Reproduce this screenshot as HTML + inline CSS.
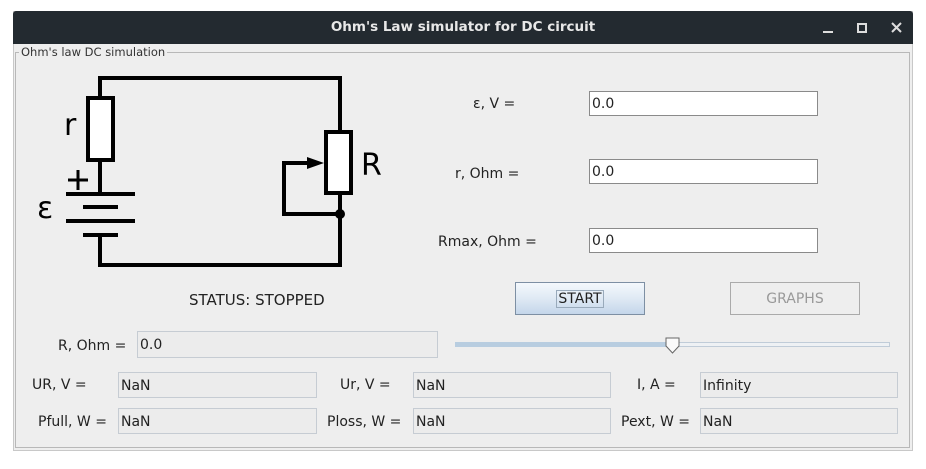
<!DOCTYPE html>
<html><head><style>
body{margin:0;width:926px;height:469px;background:#fff;position:relative;overflow:hidden;font-family:"DejaVu Sans","Liberation Sans",sans-serif;}
.win{position:absolute;left:13px;top:11px;width:900px;height:440px;background:#eeeeee;border:1px solid #c8c8c8;box-sizing:border-box;}
.title{position:absolute;left:13px;top:11px;width:900px;height:33px;background:#232a30;color:#e8e8e8;font-weight:bold;font-size:13.5px;text-align:center;line-height:33px;border-radius:3px 3px 0 0;}
.panel{position:absolute;left:15px;top:52px;width:895px;height:396px;border:1px solid #b8b8b8;box-sizing:border-box;}
.legend{position:absolute;left:19px;top:45px;background:#eeeeee;font-size:11.5px;color:#333;padding:0 2px;}
.lbl{position:absolute;font-size:14px;color:#222;white-space:nowrap;}
.tf{position:absolute;background:#fff;border:1px solid #8a8a8a;box-sizing:border-box;font-size:14px;color:#222;padding-left:2px;line-height:25px;}
.df{position:absolute;background:#ececec;border:1px solid #c6ccd3;box-sizing:border-box;font-size:14px;color:#222;padding-left:2px;line-height:27px;}
.btn{position:absolute;box-sizing:border-box;font-size:14px;text-align:center;}
</style></head><body>
<div class="win"></div>
<div class="title">Ohm's Law simulator for DC circuit</div>
<svg style="position:absolute;left:815px;top:18px" width="90" height="20">
<line x1="8" y1="14" x2="18" y2="14" stroke="#ddd" stroke-width="2"/>
<rect x="43" y="6" width="8" height="8" fill="none" stroke="#ddd" stroke-width="2"/>
<path d="M77 5L86 14M86 5L77 14" stroke="#ddd" stroke-width="2"/>
</svg>
<div class="panel"></div>
<div class="legend">Ohm's law DC simulation</div>
<svg style="position:absolute;left:0;top:0" width="460" height="290">
<g stroke="#000" stroke-width="4" fill="none">
<path d="M100 97V78H340V132M340 193V265H100V235"/>
<rect x="88" y="98" width="25" height="62" fill="#fff"/>
<line x1="100" y1="160" x2="100" y2="193"/>
<line x1="66" y1="194" x2="135" y2="194"/>
<line x1="83" y1="207" x2="118" y2="207"/>
<line x1="66" y1="221" x2="135" y2="221"/>
<line x1="83" y1="235" x2="118" y2="235"/>
<rect x="326" y="132" width="25" height="61" fill="#fff"/>
<path d="M310 163H284V214H340"/>
<line x1="68" y1="180" x2="88" y2="180" stroke-width="3"/>
<line x1="78" y1="170" x2="78" y2="190" stroke-width="3"/>
</g>
<polygon points="307,157 324,163 307,169" fill="#000"/>
<circle cx="340" cy="214" r="5" fill="#000"/>
<text x="64" y="135" font-family="DejaVu Sans" font-size="30">r</text>
<text x="361" y="175" font-family="DejaVu Sans" font-size="30">R</text>
<text x="37" y="218" font-family="DejaVu Sans" font-size="30">ε</text>
</svg>
<div class="lbl" style="left:189px;top:291px;font-size:15px">STATUS: STOPPED</div>
<div class="lbl" style="left:473px;top:96px">ε, V =</div>
<div class="tf" style="left:589px;top:91px;width:229px;height:25px">0.0</div>
<div class="lbl" style="left:455px;top:166px">r, Ohm =</div>
<div class="tf" style="left:589px;top:159px;width:229px;height:25px">0.0</div>
<div class="lbl" style="left:438px;top:234px">Rmax, Ohm =</div>
<div class="tf" style="left:589px;top:228px;width:229px;height:25px">0.0</div>
<div class="btn" style="left:515px;top:282px;width:130px;height:33px;border:1px solid #7d8fa3;background:linear-gradient(#f4f8fc,#dfe9f4 50%,#c4d6ea);color:#222;line-height:33px"><span style="border:1px solid #9ab;padding:0 1px">START</span></div>
<div class="btn" style="left:730px;top:282px;width:130px;height:33px;border:1px solid #aaa;color:#999;line-height:33px">GRAPHS</div>
<div class="lbl" style="left:58px;top:338px">R, Ohm =</div>
<div class="df" style="left:137px;top:331px;width:301px;height:27px">0.0</div>
<div style="position:absolute;left:455px;top:342px;width:435px;height:5px;border:1px solid #c0ccd8;box-sizing:border-box;background:#eef1f4"></div>
<div style="position:absolute;left:455px;top:342px;width:218px;height:5px;background:#b8cde0"></div>
<svg style="position:absolute;left:664px;top:337px" width="18" height="18"><path d="M2 1H15V9L8.5 16L2 9Z" fill="#fafafa" stroke="#666"/></svg>
<div class="lbl" style="left:32px;top:377px">UR, V =</div>
<div class="df" style="left:118px;top:372px;width:199px;height:26px">NaN</div>
<div class="lbl" style="left:340px;top:377px">Ur, V =</div>
<div class="df" style="left:413px;top:372px;width:198px;height:26px">NaN</div>
<div class="lbl" style="left:637px;top:377px">I, A =</div>
<div class="df" style="left:700px;top:372px;width:198px;height:26px">Infinity</div>
<div class="lbl" style="left:38px;top:414px">Pfull, W =</div>
<div class="df" style="left:118px;top:408px;width:199px;height:26px">NaN</div>
<div class="lbl" style="left:327px;top:414px">Ploss, W =</div>
<div class="df" style="left:413px;top:408px;width:198px;height:26px">NaN</div>
<div class="lbl" style="left:621px;top:414px">Pext, W =</div>
<div class="df" style="left:700px;top:408px;width:198px;height:26px">NaN</div>
</body></html>
